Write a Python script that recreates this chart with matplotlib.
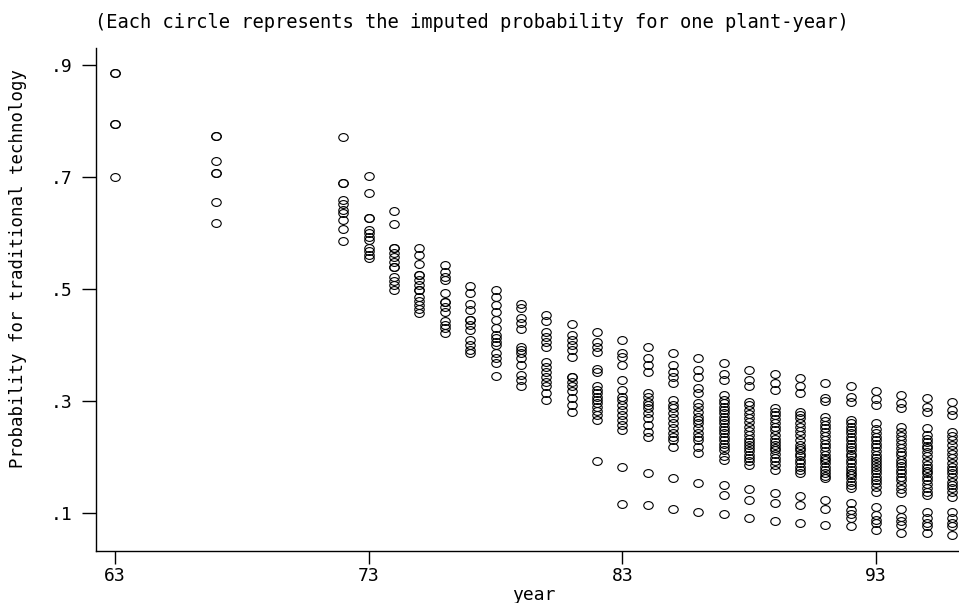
import matplotlib
matplotlib.use('Agg')
import matplotlib.pyplot as plt
import matplotlib.path as mpath

plt.rcParams['font.family'] = ['DejaVu Sans Mono', 'DejaVu Sans']

# Imputed probability per plant-year, one list per year
years = [63, 67] + list(range(72, 97))
p63 = [.885, .885, .795, .795, .700]
p67 = [.773, .773, .729, .707, .707, .656, .618]
p72 = [.771, .690, .690, .659, .652, .641, .635, .623, .608, .586]
p73 = [.701, .671, .626, .626, .605, .600, .593, .588, .573, .567, .561, .556]
p74 = [.640, .616, .573, .573, .565, .557, .548, .540, .540, .522, .515, .507, .499]
p75 = [.573, .561, .545, .525, .525, .516, .507, .498, .498, .486, .478, .471, .465, .458]
p76 = [.543, .531, .522, .516, .493, .477, .477, .468, .459, .442, .436, .430, .421]
p77 = [.505, .493, .474, .462, .445, .445, .436, .427, .409, .400, .391, .385]
p78 = [.498, .485, .471, .459, .445, .430, .418, .412, .406, .400, .385, .376, .367, .345]
p79 = [.474, .466, .448, .439, .428, .397, .391, .385, .376, .364, .346, .337, .326]
p80 = [.454, .443, .424, .415, .406, .397, .370, .361, .352, .343, .334, .326, .314, .302]
p81 = [.437, .418, .409, .400, .391, .379, .343, .343, .334, .326, .317, .305, .293, .281]
p82 = [.424, .406, .397, .388, .358, .352, .326, .320, .314, .308, .302, .296, .290, .283,
       .275, .266, .193]
p83 = [.409, .385, .379, .364, .337, .320, .308, .302, .293, .284, .275, .266, .257, .248,
       .183, .116]
p84 = [.397, .376, .364, .352, .314, .308, .299, .293, .287, .278, .269, .257, .245, .236,
       .171, .114]
p85 = [.386, .364, .352, .343, .332, .302, .293, .287, .278, .269, .260, .251, .242, .236,
       .230, .218, .162, .108]
p86 = [.376, .355, .343, .324, .314, .296, .290, .281, .272, .266, .260, .251, .242, .236,
       .230, .218, .207, .154, .102]
p87 = [.367, .349, .338, .311, .302, .296, .290, .284, .278, .272, .266, .260, .254, .248,
       .242, .236, .230, .224, .218, .212, .201, .195, .150, .132, .098]
p88 = [.355, .338, .326, .299, .292, .284, .276, .269, .262, .254, .247, .239, .233, .227,
       .221, .216, .210, .204, .198, .192, .186, .142, .124, .091]
p89 = [.348, .333, .320, .287, .281, .275, .268, .260, .254, .248, .240, .233, .227, .221,
       .216, .212, .205, .198, .192, .186, .177, .135, .117, .085]
p90 = [.341, .326, .314, .281, .275, .269, .261, .254, .247, .239, .230, .221, .216, .212,
       .206, .201, .195, .189, .183, .177, .171, .131, .114, .082]
p91 = [.332, .305, .300, .272, .265, .257, .251, .245, .238, .230, .224, .218, .211, .204,
       .199, .195, .189, .183, .177, .171, .166, .162, .123, .108, .079]
p92 = [.326, .308, .299, .266, .260, .254, .248, .242, .236, .230, .224, .218, .212, .206,
       .201, .195, .189, .183, .177, .172, .168, .162, .156, .150, .144, .117, .105, .099,
       .091, .076]
p93 = [.318, .303, .293, .260, .250, .242, .236, .230, .224, .218, .211, .204, .199, .193,
       .188, .183, .177, .171, .165, .159, .153, .147, .138, .111, .096, .087, .082, .070]
p94 = [.311, .296, .287, .254, .244, .237, .230, .223, .216, .209, .203, .195, .190, .184,
       .177, .171, .165, .159, .150, .142, .135, .108, .093, .086, .079, .064]
p95 = [.305, .290, .281, .251, .240, .233, .227, .220, .216, .209, .202, .192, .186, .180,
       .175, .171, .165, .159, .152, .144, .138, .132, .102, .091, .083, .076, .064]
p96 = [.299, .284, .275, .245, .237, .230, .222, .212, .205, .199, .189, .183, .177, .171,
       .165, .156, .150, .144, .137, .129, .102, .091, .083, .076, .061]

probs = [p63, p67, p72, p73, p74, p75, p76, p77, p78, p79, p80, p81, p82, p83, p84,
         p85, p86, p87, p88, p89, p90, p91, p92, p93, p94, p95, p96]

x_ticks = [63, 73, 83, 93]
y_ticks = [.1, .3, .5, .7, .9]
y_tick_labels = ['.1', '.3', '.5', '.7', '.9']

xs = []
ys = []
for yr, vals in zip(years, probs):
    xs += [yr] * len(vals)
    ys += vals

# slightly wide ring, like the original
circ = mpath.Path.unit_circle()
ring = mpath.Path(circ.vertices * [1.0, 0.83], circ.codes)

fig = plt.figure(figsize=(9.59, 6.03), dpi=100)
ax = fig.add_axes([96 / 959, 1 - 550.7 / 603, 1 - 96 / 959, (550.7 - 48) / 603])

ax.plot(xs, ys, linestyle='none', marker=ring, markersize=6.8,
        markerfacecolor='none', markeredgecolor='black', markeredgewidth=0.8)

ax.set_xlim(62.25, 96.27)
ax.set_ylim(0.0327, 0.9304)
ax.set_xticks(x_ticks)
ax.set_xticklabels([str(t) for t in x_ticks])
ax.set_yticks(y_ticks)
ax.set_yticklabels(y_tick_labels)

for s in ['top', 'right']:
    ax.spines[s].set_visible(False)
ax.spines['left'].set_linewidth(1.0)
ax.spines['bottom'].set_linewidth(1.0)
ax.tick_params(axis='x', direction='out', length=9, width=1, labelsize=13, pad=3)
ax.tick_params(axis='y', direction='out', length=10, width=1, labelsize=13, pad=7)

fig.text(534 / 959, 1 - 595 / 603, 'year', ha='center', va='center', fontsize=13)
fig.text(18 / 959, 1 - 268 / 603, 'Probability for traditional technology',
         rotation=90, ha='center', va='center', fontsize=12.5)
fig.text(95 / 959, 1 - 22 / 603,
         '(Each circle represents the imputed probability for one plant-year)',
         ha='left', va='center', fontsize=13.5)

fig.savefig('out.png', dpi=100)
